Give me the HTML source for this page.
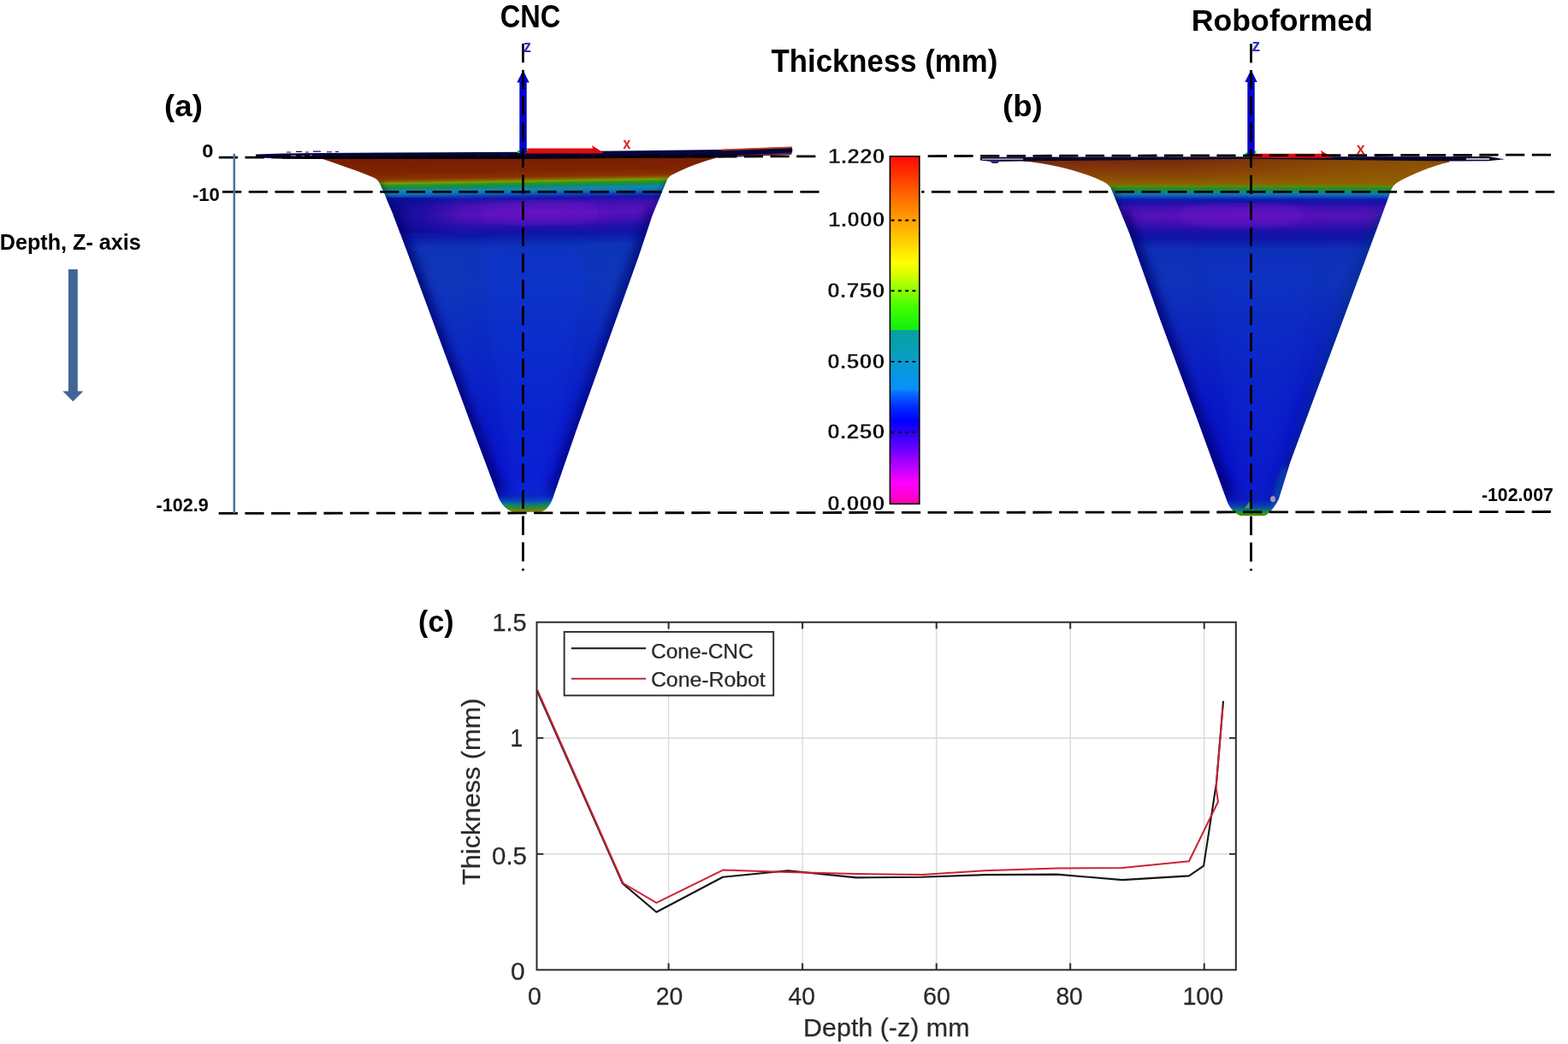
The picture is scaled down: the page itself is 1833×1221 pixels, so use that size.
<!DOCTYPE html>
<html lang="en">
<head>
<meta charset="utf-8">
<title>Thickness distribution: CNC vs Roboformed cone</title>
<style>
html,body{margin:0;padding:0;background:#fff;}
body{width:1833px;height:1221px;overflow:hidden;font-family:"Liberation Sans",Arial,sans-serif;}
svg{display:block;}
text{white-space:pre;}
</style>
</head>
<body>
<svg width="1833" height="1221" viewBox="0 0 1833 1221">
<defs>
<linearGradient id="gL" gradientUnits="userSpaceOnUse" x1="608.5" y1="186" x2="615.5" y2="600"><stop offset="0.0000" stop-color="#7a1e02"/><stop offset="0.0338" stop-color="#7f2401"/><stop offset="0.0507" stop-color="#883400"/><stop offset="0.0580" stop-color="#8a6200"/><stop offset="0.0628" stop-color="#74a004"/><stop offset="0.0688" stop-color="#2a9618"/><stop offset="0.0761" stop-color="#108a60"/><stop offset="0.0845" stop-color="#1288a8"/><stop offset="0.0942" stop-color="#1070b8"/><stop offset="0.1027" stop-color="#0c3cb4"/><stop offset="0.1111" stop-color="#1a12a8"/><stop offset="0.1280" stop-color="#4410b2"/><stop offset="0.1522" stop-color="#5612bc"/><stop offset="0.1739" stop-color="#4210b4"/><stop offset="0.1932" stop-color="#2210aa"/><stop offset="0.2126" stop-color="#0e16a8"/><stop offset="0.2464" stop-color="#0e34b6"/><stop offset="0.3478" stop-color="#0e36ba"/><stop offset="0.5169" stop-color="#0c2ac2"/><stop offset="0.7101" stop-color="#0a1cc8"/><stop offset="0.9034" stop-color="#0a12d0"/><stop offset="0.9517" stop-color="#0a20c4"/><stop offset="0.9662" stop-color="#0c50b0"/><stop offset="0.9758" stop-color="#108a70"/><stop offset="0.9855" stop-color="#3a9a10"/><stop offset="0.9928" stop-color="#808a00"/><stop offset="1.0000" stop-color="#a07000"/></linearGradient>
<linearGradient id="gR" gradientUnits="userSpaceOnUse" x1="1463" y1="186" x2="1463" y2="603"><stop offset="0.0000" stop-color="#76280c"/><stop offset="0.0288" stop-color="#84380a"/><stop offset="0.0528" stop-color="#8a4c06"/><stop offset="0.0695" stop-color="#8a6200"/><stop offset="0.0767" stop-color="#5c8a0a"/><stop offset="0.0827" stop-color="#2a8a20"/><stop offset="0.0887" stop-color="#108a60"/><stop offset="0.0959" stop-color="#1280a8"/><stop offset="0.1043" stop-color="#0e58b8"/><stop offset="0.1127" stop-color="#0a20ac"/><stop offset="0.1223" stop-color="#1a10a8"/><stop offset="0.1367" stop-color="#4010b0"/><stop offset="0.1583" stop-color="#5412ba"/><stop offset="0.1799" stop-color="#4010b2"/><stop offset="0.1990" stop-color="#2010a8"/><stop offset="0.2206" stop-color="#0e14a8"/><stop offset="0.2542" stop-color="#0e30b6"/><stop offset="0.3453" stop-color="#0e32b8"/><stop offset="0.5132" stop-color="#0c24c0"/><stop offset="0.7050" stop-color="#0a16c6"/><stop offset="0.8969" stop-color="#0a0cc8"/><stop offset="0.9544" stop-color="#0a14c0"/><stop offset="0.9736" stop-color="#0c40b0"/><stop offset="0.9856" stop-color="#108060"/><stop offset="0.9928" stop-color="#2a9a20"/><stop offset="1.0000" stop-color="#5a8a00"/></linearGradient>
<linearGradient id="gOl" gradientUnits="userSpaceOnUse" x1="1380" y1="0" x2="1700" y2="0"><stop offset="0" stop-color="#946400" stop-opacity="0"/><stop offset="0.55" stop-color="#946400" stop-opacity="0.5"/><stop offset="1" stop-color="#946400" stop-opacity="0.7"/></linearGradient>
<linearGradient id="gOlV" gradientUnits="userSpaceOnUse" x1="0" y1="186" x2="0" y2="218"><stop offset="0" stop-color="#fff"/><stop offset="0.8" stop-color="#fff"/><stop offset="1" stop-color="#000"/></linearGradient>
<mask id="mOl" maskUnits="userSpaceOnUse" x="1200" y="180" width="560" height="40"><rect x="1200" y="180" width="560" height="40" fill="url(#gOlV)"/></mask>
<linearGradient id="gNv" gradientUnits="userSpaceOnUse" x1="450" y1="0" x2="545" y2="0"><stop offset="0" stop-color="#0a0c90" stop-opacity="0.95"/><stop offset="0.45" stop-color="#0a0c98" stop-opacity="0.7"/><stop offset="1" stop-color="#0a0c98" stop-opacity="0"/></linearGradient>
<linearGradient id="gCB" gradientUnits="userSpaceOnUse" x1="0" y1="183" x2="0" y2="589"><stop offset="0.0000" stop-color="#ff0a0a"/><stop offset="0.0419" stop-color="#ff2a00"/><stop offset="0.1158" stop-color="#ff6a00"/><stop offset="0.1823" stop-color="#ffa000"/><stop offset="0.2512" stop-color="#ffd400"/><stop offset="0.3054" stop-color="#ffff00"/><stop offset="0.3498" stop-color="#c8ff00"/><stop offset="0.3867" stop-color="#8cff00"/><stop offset="0.4360" stop-color="#40ff00"/><stop offset="0.4988" stop-color="#10f010"/><stop offset="0.5012" stop-color="#08a0a0"/><stop offset="0.5468" stop-color="#08a0b0"/><stop offset="0.5911" stop-color="#089cd0"/><stop offset="0.6700" stop-color="#0890f8"/><stop offset="0.6798" stop-color="#0870ff"/><stop offset="0.7192" stop-color="#0030ff"/><stop offset="0.7611" stop-color="#0000ff"/><stop offset="0.7931" stop-color="#2800ff"/><stop offset="0.8300" stop-color="#5800ff"/><stop offset="0.8670" stop-color="#9000ff"/><stop offset="0.9039" stop-color="#c800ff"/><stop offset="0.9409" stop-color="#ff00ff"/><stop offset="0.9729" stop-color="#ff00d8"/><stop offset="1.0000" stop-color="#ff00b0"/></linearGradient>
<filter id="b6" x="-20%" y="-20%" width="140%" height="140%"><feGaussianBlur stdDeviation="6"/></filter>
<filter id="b10" x="-30%" y="-30%" width="160%" height="160%"><feGaussianBlur stdDeviation="10"/></filter>
<filter id="b3" x="-20%" y="-20%" width="140%" height="140%"><feGaussianBlur stdDeviation="3"/></filter>
<filter id="b05"><feGaussianBlur stdDeviation="0.5"/></filter>
<clipPath id="cL"><path d="M 374 185 C 394 191.6, 420 200.5, 437 207.8 Q 441.5 209.8 443.2 213.2 L 448.6 224.5 L 458.9 249 L 477.3 298 L 552.1 500 L 581.6 578.5 C 585 589, 591 596, 600 598.8 L 632 598.8 C 640 596.5, 644.5 589, 647.6 578.5 L 674.8 500 L 746.5 300 L 762.5 252 L 774 224.2 L 780.2 209.5 Q 782 205.8 786 204.2 C 802 196, 822 188.5, 843 183 L 843 178 L 374 181 Z"/></clipPath>
<clipPath id="cR"><path d="M 1196 188.4 C 1232 191.5, 1268 201.5, 1290 212.6 Q 1296.5 216 1299 221 L 1320 272 L 1355.6 372 L 1401 494 L 1434.4 586 C 1437.5 594, 1442 599.5, 1450 603.2 L 1478 603.2 C 1485 600.5, 1490.5 592, 1494.8 583.5 L 1508.4 540 L 1626.8 221 Q 1629 216 1634 213 C 1650 204, 1672 194.5, 1694 189.5 L 1694 184 L 1196 184 Z"/></clipPath>
</defs>
<rect x="0" y="0" width="1833" height="1221" fill="#fff"/>
<g id="coneL">
<path d="M 374 185 C 394 191.6, 420 200.5, 437 207.8 Q 441.5 209.8 443.2 213.2 L 448.6 224.5 L 458.9 249 L 477.3 298 L 552.1 500 L 581.6 578.5 C 585 589, 591 596, 600 598.8 L 632 598.8 C 640 596.5, 644.5 589, 647.6 578.5 L 674.8 500 L 746.5 300 L 762.5 252 L 774 224.2 L 780.2 209.5 Q 782 205.8 786 204.2 C 802 196, 822 188.5, 843 183 L 843 178 L 374 181 Z" fill="url(#gL)"/>
<g clip-path="url(#cL)">
<ellipse cx="632" cy="249" rx="75" ry="9" fill="#8416d0" opacity="0.6" filter="url(#b10)"/>
<path d="M 560 290 L 690 290 L 640 590 L 600 590 Z" fill="#1030d8" opacity="0.45" filter="url(#b10)"/>
<rect x="440" y="231" width="110" height="42" fill="url(#gNv)"/>
<path d="M 441 214 L 454 242" fill="none" stroke="#041440" stroke-width="9" opacity="0.55" filter="url(#b3)"/>
<path d="M 781 211 L 768 240" fill="none" stroke="#041440" stroke-width="7" opacity="0.4" filter="url(#b3)"/>
<path d="M 455 242 L 581.6 578.5" fill="none" stroke="#06066a" stroke-width="16" opacity="0.8" filter="url(#b6)"/>
<path d="M 766 242 L 647.6 578.5" fill="none" stroke="#06066a" stroke-width="14" opacity="0.7" filter="url(#b6)"/>
</g>
<path d="M 299 180.6 L 330 179.6 L 372 179 L 450 178.6 L 611 177.8 L 843 175 L 925.5 171.8 L 926.5 176 L 925 180.8 L 843 184.2 L 611 185.8 L 371 186 L 340 185.6 L 299 184.6 Z" fill="#05043c"/>
<path d="M 335 177.4 h5 v1 h-5 z M 346 176.8 h7 v1.2 h-7 z M 357 177.6 h4 v1 h-4 z M 366 176.6 h9 v1.2 h-9 z M 382 177.2 h6 v1 h-6 z M 392 177 h4 v1 h-4 z" fill="#0c0c50"/>
<path d="M 340 181.4 h6 v1 h-6 z M 352 182 h4 v1 h-4 z M 362 181.2 h3 v1 h-3 z" fill="#d8d8f0" opacity="0.8"/>
<path d="M 330 183.2 L 611 182.8 L 843 181.2 L 843 183.8 L 611 185.8 L 330 185.8 Z" fill="#0a0210"/>
<path d="M 843 174.6 L 925.5 171.6 L 925.8 173.2 L 843 176.2 Z" fill="#c2401c"/>
<path d="M 862 181.4 L 925 178.6 L 925 180.8 L 862 183.4 Z" fill="#7a3040" opacity="0.8"/>
</g>
<g id="coneR">
<path d="M 1196 188.4 C 1232 191.5, 1268 201.5, 1290 212.6 Q 1296.5 216 1299 221 L 1320 272 L 1355.6 372 L 1401 494 L 1434.4 586 C 1437.5 594, 1442 599.5, 1450 603.2 L 1478 603.2 C 1485 600.5, 1490.5 592, 1494.8 583.5 L 1508.4 540 L 1626.8 221 Q 1629 216 1634 213 C 1650 204, 1672 194.5, 1694 189.5 L 1694 184 L 1196 184 Z" fill="url(#gR)"/>
<g clip-path="url(#cR)">
<ellipse cx="1452" cy="252" rx="80" ry="9" fill="#8416d0" opacity="0.6" filter="url(#b10)"/>
<rect x="1380" y="184" width="330" height="34" fill="url(#gOl)" mask="url(#mOl)"/>
<path d="M 1410 300 L 1540 300 L 1490 590 L 1450 590 Z" fill="#1030d0" opacity="0.4" filter="url(#b10)"/>
<path d="M 1310 246 L 1320 272 L 1355.6 372 L 1401 494 L 1434 581" fill="none" stroke="#06066a" stroke-width="16" opacity="0.8" filter="url(#b6)"/>
<path d="M 1297 221 L 1309 247" fill="none" stroke="#041440" stroke-width="9" opacity="0.5" filter="url(#b3)"/>
<path d="M 1617 246 L 1494.5 581" fill="none" stroke="#062a7a" stroke-width="12" opacity="0.6" filter="url(#b6)"/>
<path d="M 1503 548 L 1489 592" fill="none" stroke="#1470b0" stroke-width="7" opacity="0.55" filter="url(#b3)"/>
<path d="M 1454.5 594.5 L 1461 586.5 L 1461 594.5 Z" fill="#2aa848"/>
<ellipse cx="1488" cy="583.6" rx="3" ry="3.6" fill="#9c9ca4"/>
</g>
<path d="M 1146 183.8 L 1463 183.2 L 1740 183 L 1759 186.2 L 1740 188.2 L 1694 188.6 L 1463 185.8 L 1213 188.2 L 1160 189 L 1146 187.4 Z" fill="#08062e"/>
<path d="M 1156 187.6 L 1170 187.6 L 1166 191 L 1160 191 Z" fill="#2a2a70"/>
<rect x="1148" y="185.4" width="48" height="1.5" fill="#d0d0ee" opacity="0.85"/>
<rect x="1714" y="185.2" width="27" height="1.6" fill="#e8e0e0"/>
</g>
<path d="M 611.5 173.6 L 693 173.6 L 692 170.0 L 706 179.1 L 700 179.6 L 611.5 179.6 Z" fill="#dc0c0c"/><rect x="605.0" y="176.0" width="3" height="3" fill="#20c040"/><rect x="615.0" y="174.0" width="2.5" height="2.5" fill="#20c040"/><path d="M 611.5 82 L 618.7 96.5 L 615.7 96.5 L 615.7 178.5 L 607.3 178.5 L 607.3 96.5 L 604.3 96.5 Z" fill="#0505cc"/>
<path d="M 1462.5 179.7 L 1545 179.7 L 1544 176.1 L 1558 184.2 L 1552 184.7 L 1462.5 184.7 Z" fill="#dc0c0c"/><rect x="1456.0" y="178.5" width="3" height="3" fill="#20c040"/><rect x="1466.0" y="176.5" width="2.5" height="2.5" fill="#20c040"/><path d="M 1462.5 81.5 L 1469.7 96.0 L 1466.7 96.0 L 1466.7 181 L 1458.3 181 L 1458.3 96.0 L 1455.3 96.0 Z" fill="#0505cc"/>
<text x="611.88" y="60.8" font-family="Liberation Sans, Arial, sans-serif" font-weight="bold" font-size="19.3" fill="#3030c8" text-anchor="start" textLength="8.97" lengthAdjust="spacingAndGlyphs">z</text>
<text x="728.29" y="174.1" font-family="Liberation Sans, Arial, sans-serif" font-weight="bold" font-size="17.8" fill="#e02424" text-anchor="start" textLength="9.03" lengthAdjust="spacingAndGlyphs">x</text>
<text x="1463.43" y="60.0" font-family="Liberation Sans, Arial, sans-serif" font-weight="bold" font-size="19.3" fill="#3030c8" text-anchor="start" textLength="9.67" lengthAdjust="spacingAndGlyphs">z</text>
<text x="1585.68" y="179.6" font-family="Liberation Sans, Arial, sans-serif" font-weight="bold" font-size="18.4" fill="#e02424" text-anchor="start" textLength="9.85" lengthAdjust="spacingAndGlyphs">x</text>
<g id="colorbar">
<rect x="1040.4" y="182.8" width="34.4" height="406.5" fill="url(#gCB)" stroke="#000" stroke-width="1.6"/>
<line x1="1041.6" y1="257.6" x2="1073.6" y2="257.6" stroke="#1a0a00" stroke-width="2.2" stroke-dasharray="3.9 4.4"/>
<line x1="1041.6" y1="340.2" x2="1073.6" y2="340.2" stroke="#1a0a00" stroke-width="2.2" stroke-dasharray="3.9 4.4"/>
<line x1="1041.6" y1="423" x2="1073.6" y2="423" stroke="#1a0a00" stroke-width="2.2" stroke-dasharray="3.9 4.4"/>
<line x1="1041.6" y1="505.6" x2="1073.6" y2="505.6" stroke="#1a0a00" stroke-width="2.2" stroke-dasharray="3.9 4.4"/>
<text x="968.13" y="191.15" font-family="Liberation Sans, Arial, sans-serif" font-weight="bold" font-size="23.9" fill="#0c0c0c" text-anchor="start" textLength="66.36" lengthAdjust="spacingAndGlyphs" stroke="#fff" stroke-width="0.45">1.220</text>
<text x="968.13" y="265.35" font-family="Liberation Sans, Arial, sans-serif" font-weight="bold" font-size="23.9" fill="#0c0c0c" text-anchor="start" textLength="66.36" lengthAdjust="spacingAndGlyphs" stroke="#fff" stroke-width="0.45">1.000</text>
<text x="967.14" y="348.15000000000003" font-family="Liberation Sans, Arial, sans-serif" font-weight="bold" font-size="23.9" fill="#0c0c0c" text-anchor="start" textLength="67.37" lengthAdjust="spacingAndGlyphs" stroke="#fff" stroke-width="0.45">0.750</text>
<text x="967.14" y="431.05" font-family="Liberation Sans, Arial, sans-serif" font-weight="bold" font-size="23.9" fill="#0c0c0c" text-anchor="start" textLength="67.37" lengthAdjust="spacingAndGlyphs" stroke="#fff" stroke-width="0.45">0.500</text>
<text x="967.14" y="513.35" font-family="Liberation Sans, Arial, sans-serif" font-weight="bold" font-size="23.9" fill="#0c0c0c" text-anchor="start" textLength="67.37" lengthAdjust="spacingAndGlyphs" stroke="#fff" stroke-width="0.45">0.250</text>
<text x="967.14" y="596.65" font-family="Liberation Sans, Arial, sans-serif" font-weight="bold" font-size="23.9" fill="#0c0c0c" text-anchor="start" textLength="67.37" lengthAdjust="spacingAndGlyphs" stroke="#fff" stroke-width="0.45">0.000</text>
</g>
<line x1="255.8" y1="184.2" x2="958" y2="182.80" stroke="#000" stroke-width="2.8" stroke-dasharray="22.2 8.5" fill="none"/><line x1="1084.5" y1="182.55" x2="1813" y2="181.1" stroke="#000" stroke-width="2.8" stroke-dasharray="22.2 8.5" fill="none" stroke-dashoffset="30.50"/>
<line x1="260" y1="224.3" x2="960" y2="224.30" stroke="#000" stroke-width="2.8" stroke-dasharray="22.2 8.5" fill="none"/><line x1="1077.2" y1="224.30" x2="1817.2" y2="224.3" stroke="#000" stroke-width="2.8" stroke-dasharray="22.2 8.5" fill="none" stroke-dashoffset="19.00"/>
<line x1="255.7" y1="600.4" x2="1813" y2="598.5" stroke="#000" stroke-width="2.8" stroke-dasharray="22.2 8.5" fill="none"/>
<line x1="611.4" y1="51" x2="611.4" y2="667.4" stroke="#000" stroke-width="2.8" stroke-dasharray="22.2 8.5" fill="none"/>
<line x1="1462.5" y1="51.2" x2="1462.5" y2="667.4" stroke="#000" stroke-width="2.8" stroke-dasharray="22.2 8.5" fill="none"/>
<line x1="273.8" y1="179.8" x2="273.8" y2="600.2" stroke="#4a6fa2" stroke-width="2.5"/>
<path d="M 80 315 L 90.8 315 L 90.8 457.4 L 97.4 457.4 L 85.4 469.6 L 73.4 457.4 L 80 457.4 Z" fill="#3f6597"/>
<text x="-0.18" y="292.2" font-family="Liberation Sans, Arial, sans-serif" font-weight="bold" font-size="25.8" fill="#000" text-anchor="start" textLength="165.02" lengthAdjust="spacingAndGlyphs">Depth, Z- axis</text>
<text x="236.36" y="183.8" font-family="Liberation Sans, Arial, sans-serif" font-weight="bold" font-size="21.3" fill="#000" text-anchor="start" textLength="13.21" lengthAdjust="spacingAndGlyphs">0</text>
<text x="224.94" y="235.3" font-family="Liberation Sans, Arial, sans-serif" font-weight="bold" font-size="21.3" fill="#000" text-anchor="start" textLength="31.97" lengthAdjust="spacingAndGlyphs">-10</text>
<text x="182.56" y="598.1" font-family="Liberation Sans, Arial, sans-serif" font-weight="bold" font-size="21.3" fill="#000" text-anchor="start" textLength="61.25" lengthAdjust="spacingAndGlyphs">-102.9</text>
<text x="1731.97" y="585.7" font-family="Liberation Sans, Arial, sans-serif" font-weight="bold" font-size="21.3" fill="#000" text-anchor="start" textLength="83.76" lengthAdjust="spacingAndGlyphs">-102.007</text>
<text x="584.77" y="31.8" font-family="Liberation Sans, Arial, sans-serif" font-weight="bold" font-size="36.2" fill="#000" text-anchor="start" textLength="70.42" lengthAdjust="spacingAndGlyphs">CNC</text>
<text x="1392.71" y="35.6" font-family="Liberation Sans, Arial, sans-serif" font-weight="bold" font-size="35.8" fill="#000" text-anchor="start" textLength="212.24" lengthAdjust="spacingAndGlyphs">Roboformed</text>
<text x="901.51" y="84.3" font-family="Liberation Sans, Arial, sans-serif" font-weight="bold" font-size="37.8" fill="#000" text-anchor="start" textLength="264.72" lengthAdjust="spacingAndGlyphs">Thickness (mm)</text>
<text x="192.07" y="136.3" font-family="Liberation Sans, Arial, sans-serif" font-weight="bold" font-size="35.6" fill="#000" text-anchor="start" textLength="44.86" lengthAdjust="spacingAndGlyphs">(a)</text>
<text x="1172.08" y="136.3" font-family="Liberation Sans, Arial, sans-serif" font-weight="bold" font-size="35.6" fill="#000" text-anchor="start" textLength="46.64" lengthAdjust="spacingAndGlyphs">(b)</text>
<text x="489.11" y="738.9" font-family="Liberation Sans, Arial, sans-serif" font-weight="bold" font-size="35.6" fill="#000" text-anchor="start" textLength="41.48" lengthAdjust="spacingAndGlyphs">(c)</text>
<g id="chart">
<line x1="781.6" y1="727.7" x2="781.6" y2="1134.3" stroke="#dadada" stroke-width="1.4"/>
<line x1="938.1" y1="727.7" x2="938.1" y2="1134.3" stroke="#dadada" stroke-width="1.4"/>
<line x1="1094.7" y1="727.7" x2="1094.7" y2="1134.3" stroke="#dadada" stroke-width="1.4"/>
<line x1="1251.2" y1="727.7" x2="1251.2" y2="1134.3" stroke="#dadada" stroke-width="1.4"/>
<line x1="1407.7" y1="727.7" x2="1407.7" y2="1134.3" stroke="#dadada" stroke-width="1.4"/>
<line x1="627.5" y1="998.8" x2="1444.8" y2="998.8" stroke="#dadada" stroke-width="1.4"/>
<line x1="627.5" y1="863.2" x2="1444.8" y2="863.2" stroke="#dadada" stroke-width="1.4"/>
<polyline points="627.5,807.3 727.8,1033.2 767.3,1066.7 845.0,1025.8 921.0,1018.2 1001.0,1026.4 1077.3,1025.8 1151.0,1023.1 1235.5,1022.6 1311.9,1029.1 1390.0,1024.4 1407.1,1012.7 1422.0,915.7 1430.0,819.8" fill="none" stroke="#161616" stroke-width="2.1" stroke-linejoin="round"/>
<polyline points="628.5,807.6 728.4,1033.0 767.3,1055.8 845.0,1017.6 921.0,1020.0 1001.0,1022.0 1077.3,1023.1 1151.0,1018.2 1235.5,1015.5 1311.9,1015.0 1390.0,1007.3 1423.9,937.7 1421.6,921.0 1429.5,827.0" fill="none" stroke="#cc2234" stroke-width="2" stroke-linejoin="round"/>
<rect x="627.5" y="727.7" width="817.3" height="406.6" fill="none" stroke="#2c2c2c" stroke-width="2"/>
<line x1="781.6" y1="1134.3" x2="781.6" y2="1126.5" stroke="#2c2c2c" stroke-width="2"/>
<line x1="781.6" y1="727.7" x2="781.6" y2="735.5" stroke="#2c2c2c" stroke-width="2"/>
<line x1="938.1" y1="1134.3" x2="938.1" y2="1126.5" stroke="#2c2c2c" stroke-width="2"/>
<line x1="938.1" y1="727.7" x2="938.1" y2="735.5" stroke="#2c2c2c" stroke-width="2"/>
<line x1="1094.7" y1="1134.3" x2="1094.7" y2="1126.5" stroke="#2c2c2c" stroke-width="2"/>
<line x1="1094.7" y1="727.7" x2="1094.7" y2="735.5" stroke="#2c2c2c" stroke-width="2"/>
<line x1="1251.2" y1="1134.3" x2="1251.2" y2="1126.5" stroke="#2c2c2c" stroke-width="2"/>
<line x1="1251.2" y1="727.7" x2="1251.2" y2="735.5" stroke="#2c2c2c" stroke-width="2"/>
<line x1="1407.7" y1="1134.3" x2="1407.7" y2="1126.5" stroke="#2c2c2c" stroke-width="2"/>
<line x1="1407.7" y1="727.7" x2="1407.7" y2="735.5" stroke="#2c2c2c" stroke-width="2"/>
<line x1="627.5" y1="998.8" x2="635.3" y2="998.8" stroke="#2c2c2c" stroke-width="2"/>
<line x1="1444.8" y1="998.8" x2="1437.0" y2="998.8" stroke="#2c2c2c" stroke-width="2"/>
<line x1="627.5" y1="863.2" x2="635.3" y2="863.2" stroke="#2c2c2c" stroke-width="2"/>
<line x1="1444.8" y1="863.2" x2="1437.0" y2="863.2" stroke="#2c2c2c" stroke-width="2"/>
<text x="616.89" y="1174.9" font-family="Liberation Sans, Arial, sans-serif" font-size="28.6" fill="#2a2a2a" text-anchor="start" textLength="15.82" lengthAdjust="spacingAndGlyphs" stroke="#2a2a2a" stroke-width="0.25">0</text>
<text x="766.77" y="1174.9" font-family="Liberation Sans, Arial, sans-serif" font-size="28.6" fill="#2a2a2a" text-anchor="start" textLength="31.53" lengthAdjust="spacingAndGlyphs" stroke="#2a2a2a" stroke-width="0.25">20</text>
<text x="921.55" y="1174.9" font-family="Liberation Sans, Arial, sans-serif" font-size="28.6" fill="#2a2a2a" text-anchor="start" textLength="31.35" lengthAdjust="spacingAndGlyphs" stroke="#2a2a2a" stroke-width="0.25">40</text>
<text x="1078.94" y="1174.9" font-family="Liberation Sans, Arial, sans-serif" font-size="28.6" fill="#2a2a2a" text-anchor="start" textLength="31.98" lengthAdjust="spacingAndGlyphs" stroke="#2a2a2a" stroke-width="0.25">60</text>
<text x="1234.38" y="1174.9" font-family="Liberation Sans, Arial, sans-serif" font-size="28.6" fill="#2a2a2a" text-anchor="start" textLength="31.32" lengthAdjust="spacingAndGlyphs" stroke="#2a2a2a" stroke-width="0.25">80</text>
<text x="1382.41" y="1174.9" font-family="Liberation Sans, Arial, sans-serif" font-size="28.6" fill="#2a2a2a" text-anchor="start" textLength="47.91" lengthAdjust="spacingAndGlyphs" stroke="#2a2a2a" stroke-width="0.25">100</text>
<text x="575.5" y="737.6" font-family="Liberation Sans, Arial, sans-serif" font-size="28.6" fill="#2a2a2a" text-anchor="start" textLength="40.11" lengthAdjust="spacingAndGlyphs" stroke="#2a2a2a" stroke-width="0.25">1.5</text>
<text x="596.59" y="873.3" font-family="Liberation Sans, Arial, sans-serif" font-size="28.6" fill="#2a2a2a" text-anchor="start" textLength="14.71" lengthAdjust="spacingAndGlyphs" stroke="#2a2a2a" stroke-width="0.25">1</text>
<text x="575.05" y="1010.6" font-family="Liberation Sans, Arial, sans-serif" font-size="28.6" fill="#2a2a2a" text-anchor="start" textLength="40.88" lengthAdjust="spacingAndGlyphs" stroke="#2a2a2a" stroke-width="0.25">0.5</text>
<text x="597.13" y="1146.2" font-family="Liberation Sans, Arial, sans-serif" font-size="28.6" fill="#2a2a2a" text-anchor="start" textLength="16.64" lengthAdjust="spacingAndGlyphs" stroke="#2a2a2a" stroke-width="0.25">0</text>
<text x="939.1" y="1211.7" font-family="Liberation Sans, Arial, sans-serif" font-size="30.3" fill="#2a2a2a" text-anchor="start" textLength="194.4" lengthAdjust="spacingAndGlyphs" stroke="#2a2a2a" stroke-width="0.25">Depth (-z) mm</text>
<text transform="translate(561 1034.3) rotate(-90)" x="-0.69" y="0" font-family="Liberation Sans, Arial, sans-serif" font-size="30.3" fill="#2a2a2a" stroke="#2a2a2a" stroke-width="0.25" textLength="218.5" lengthAdjust="spacingAndGlyphs">Thickness (mm)</text>
<rect x="659.6" y="739" width="244.6" height="74.4" fill="#fff" stroke="#2c2c2c" stroke-width="1.9"/>
<line x1="667.8" y1="758.3" x2="755" y2="758.3" stroke="#161616" stroke-width="2"/>
<line x1="667.8" y1="793.7" x2="755" y2="793.7" stroke="#c02a3a" stroke-width="2"/>
<text x="760.96" y="770.1" font-family="Liberation Sans, Arial, sans-serif" font-size="24.4" fill="#2a2a2a" text-anchor="start" textLength="119.78" lengthAdjust="spacingAndGlyphs" stroke="#2a2a2a" stroke-width="0.25">Cone-CNC</text>
<text x="760.94" y="802.5" font-family="Liberation Sans, Arial, sans-serif" font-size="24.4" fill="#2a2a2a" text-anchor="start" textLength="133.84" lengthAdjust="spacingAndGlyphs" stroke="#2a2a2a" stroke-width="0.25">Cone-Robot</text>
</g>
</svg>
</body>
</html>
